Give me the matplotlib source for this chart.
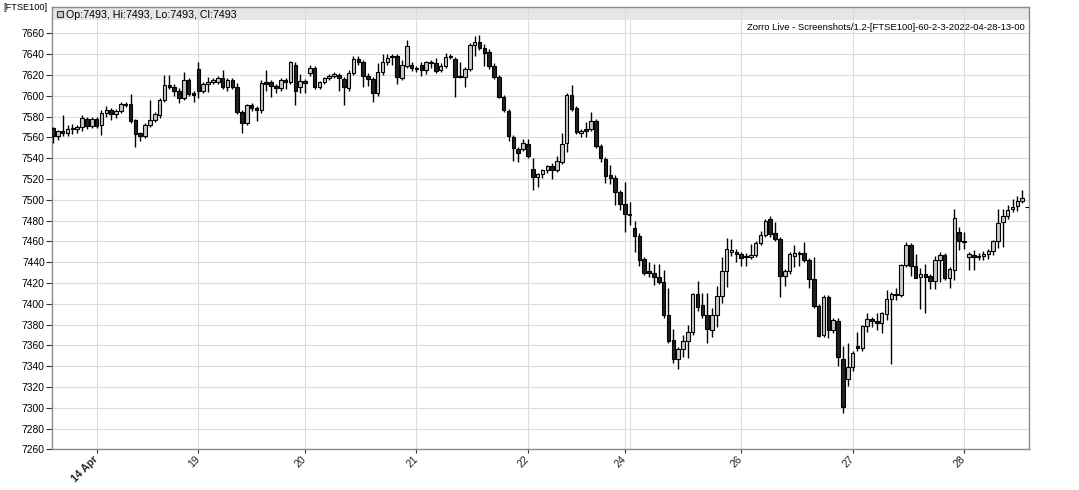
#!/usr/bin/env python3
"""FTSE100 hourly candles, Zorro style screenshot"""
import matplotlib
matplotlib.use('Agg')
import matplotlib.pyplot as plt
from matplotlib.patches import Rectangle
import numpy as np

plt.rcParams['font.family'] = ['Liberation Sans', 'DejaVu Sans']

# hourly bars, 12 Apr .. 28 Apr 2022
opens = [
    7569, 7561, 7566, 7564, 7568, 7568, 7570, 7578, 7571, 7578,
    7572, 7583, 7586, 7582, 7585, 7592, 7592, 7577, 7564, 7561,
    7572, 7577, 7581, 7596, 7610, 7608, 7605, 7598, 7615, 7603,
    7626, 7605, 7611, 7613, 7613, 7617, 7608, 7615, 7608, 7584,
    7574, 7591, 7588, 7586, 7613, 7613, 7609, 7607, 7615, 7613,
    7630, 7608, 7614, 7622, 7627, 7608, 7613, 7617, 7619, 7620,
    7616, 7607, 7622, 7635, 7632, 7619, 7616, 7603, 7623, 7632,
    7638, 7638, 7617, 7629, 7630, 7627, 7630, 7625, 7632, 7631,
    7625, 7629, 7638, 7635, 7619, 7618, 7626, 7649, 7652, 7646,
    7642, 7629, 7618, 7599, 7585, 7560, 7549, 7549, 7554, 7530,
    7522, 7525, 7529, 7532, 7529, 7536, 7555, 7601, 7588, 7564,
    7568, 7568, 7576, 7552, 7539, 7524, 7521, 7507, 7496, 7486,
    7473, 7465, 7443, 7431, 7430, 7426, 7421, 7389, 7365, 7347,
    7356, 7364, 7373, 7409, 7399, 7389, 7375, 7389, 7407, 7431,
    7450, 7450, 7448, 7445, 7445, 7447, 7458, 7466, 7481, 7468,
    7462, 7427, 7431, 7446, 7448, 7449, 7442, 7424, 7398, 7370,
    7406, 7375, 7383, 7347, 7328, 7339, 7359, 7357, 7379, 7385,
    7383, 7381, 7390, 7405, 7409, 7408, 7437, 7456, 7436, 7426,
    7429, 7427, 7422, 7442, 7447, 7425, 7432, 7469, 7460, 7445,
    7447, 7445, 7446, 7448, 7451, 7460, 7479, 7484, 7491, 7494,
    7499, 7493]
highs = [
    7570, 7567, 7581, 7572, 7573, 7572, 7581, 7580, 7580, 7580,
    7586, 7590, 7588, 7587, 7594, 7594, 7602, 7578, 7565, 7574,
    7596, 7584, 7598, 7620, 7620, 7611, 7607, 7623, 7617, 7605,
    7632, 7613, 7618, 7617, 7619, 7625, 7617, 7617, 7612, 7586,
    7592, 7593, 7590, 7615, 7625, 7615, 7611, 7617, 7617, 7633,
    7632, 7621, 7616, 7630, 7629, 7614, 7618, 7621, 7623, 7622,
    7618, 7625, 7638, 7638, 7634, 7622, 7618, 7631, 7640, 7640,
    7640, 7640, 7634, 7654, 7632, 7629, 7632, 7633, 7634, 7636,
    7631, 7641, 7640, 7637, 7632, 7628, 7651, 7657, 7658, 7650,
    7645, 7631, 7620, 7601, 7587, 7562, 7551, 7558, 7558, 7540,
    7526, 7530, 7533, 7535, 7542, 7564, 7603, 7610, 7590, 7568,
    7575, 7584, 7578, 7554, 7541, 7533, 7524, 7509, 7517, 7498,
    7480, 7468, 7445, 7440, 7438, 7438, 7432, 7415, 7376, 7358,
    7370, 7380, 7410, 7422, 7410, 7410, 7396, 7417, 7445, 7463,
    7462, 7453, 7450, 7449, 7457, 7460, 7470, 7481, 7484, 7479,
    7464, 7433, 7450, 7456, 7451, 7459, 7444, 7445, 7400, 7408,
    7408, 7386, 7386, 7359, 7362, 7355, 7373, 7380, 7391, 7387,
    7391, 7392, 7413, 7411, 7415, 7438, 7459, 7458, 7448, 7434,
    7438, 7429, 7446, 7450, 7449, 7435, 7491, 7474, 7469, 7450,
    7452, 7449, 7451, 7453, 7461, 7491, 7491, 7495, 7501, 7504,
    7509, 7493]
lows = [
    7555, 7557, 7561, 7561, 7563, 7564, 7566, 7568, 7569, 7569,
    7562, 7580, 7577, 7579, 7583, 7589, 7574, 7551, 7556, 7559,
    7570, 7575, 7579, 7594, 7606, 7600, 7593, 7596, 7600, 7594,
    7598, 7603, 7604, 7611, 7611, 7606, 7605, 7606, 7582, 7564,
    7572, 7585, 7576, 7583, 7605, 7599, 7603, 7605, 7606, 7611,
    7591, 7603, 7603, 7619, 7606, 7606, 7611, 7615, 7617, 7605,
    7591, 7605, 7620, 7630, 7608, 7609, 7594, 7600, 7620, 7630,
    7630, 7611, 7615, 7627, 7624, 7623, 7619, 7621, 7627, 7622,
    7623, 7627, 7635, 7599, 7617, 7608, 7624, 7638, 7644, 7629,
    7626, 7616, 7598, 7584, 7556, 7537, 7536, 7547, 7540, 7509,
    7512, 7521, 7526, 7520, 7527, 7534, 7546, 7585, 7563, 7560,
    7560, 7566, 7550, 7536, 7516, 7515, 7495, 7490, 7469, 7476,
    7450, 7436, 7428, 7426, 7418, 7419, 7386, 7362, 7343, 7337,
    7349, 7348, 7370, 7393, 7386, 7362, 7368, 7378, 7401, 7416,
    7446, 7440, 7436, 7436, 7443, 7445, 7456, 7464, 7464, 7460,
    7406, 7417, 7429, 7435, 7436, 7440, 7415, 7396, 7368, 7368,
    7367, 7372, 7340, 7295, 7321, 7335, 7355, 7355, 7373, 7378,
    7375, 7372, 7384, 7342, 7404, 7406, 7435, 7427, 7425, 7395,
    7391, 7414, 7414, 7421, 7423, 7415, 7423, 7452, 7453, 7432,
    7432, 7442, 7442, 7443, 7447, 7454, 7455, 7481, 7488, 7489,
    7497, 7493]
closes = [
    7561, 7566, 7564, 7568, 7569, 7570, 7579, 7571, 7578, 7571,
    7583, 7586, 7582, 7585, 7592, 7591, 7576, 7563, 7561, 7572,
    7577, 7582, 7596, 7610, 7608, 7605, 7598, 7615, 7602, 7601,
    7605, 7611, 7613, 7615, 7617, 7608, 7615, 7608, 7584, 7574,
    7591, 7588, 7586, 7612, 7611, 7609, 7607, 7615, 7613, 7632,
    7605, 7614, 7612, 7627, 7608, 7613, 7617, 7619, 7621, 7617,
    7608, 7622, 7635, 7632, 7619, 7616, 7603, 7623, 7632, 7636,
    7637, 7618, 7630, 7648, 7627, 7626, 7625, 7632, 7631, 7624,
    7629, 7637, 7637, 7618, 7618, 7626, 7649, 7652, 7646, 7641,
    7629, 7618, 7599, 7586, 7561, 7550, 7545, 7555, 7542, 7522,
    7525, 7529, 7532, 7529, 7537, 7554, 7601, 7587, 7565, 7566,
    7566, 7576, 7552, 7540, 7523, 7521, 7507, 7496, 7486, 7485,
    7465, 7442, 7430, 7430, 7426, 7421, 7389, 7364, 7347, 7356,
    7364, 7373, 7409, 7397, 7389, 7376, 7389, 7407, 7431, 7453,
    7452, 7448, 7444, 7446, 7447, 7458, 7466, 7480, 7467, 7462,
    7427, 7431, 7448, 7449, 7449, 7442, 7424, 7398, 7369, 7406,
    7375, 7384, 7349, 7301, 7339, 7353, 7357, 7379, 7385, 7383,
    7381, 7391, 7405, 7409, 7408, 7437, 7456, 7436, 7425, 7429,
    7426, 7422, 7442, 7447, 7425, 7433, 7482, 7460, 7459, 7448,
    7445, 7446, 7448, 7451, 7460, 7478, 7484, 7490, 7493, 7499,
    7502, 7493]

day_bars = [9, 30, 52, 75, 98, 118, 142, 165, 188]
day_labels = ['14 Apr', '19', '20', '21', '22', '24', '26', '27', '28']
extra_grid = [119]
yticks = list(range(7260, 7661, 20))

header = 'Op:7493, Hi:7493, Lo:7493, Cl:7493'
title = 'Zorro Live - Screenshots/1.2-[FTSE100]-60-2-3-2022-04-28-13-00'

W, H = 1079, 490
fig = plt.figure(figsize=(W/100, H/100), dpi=100)
ax = fig.add_axes([51.7/W, 1-449.3/H, (1029-51.7)/W, (449.3-7)/H])

o = np.array(opens, float); c = np.array(closes, float)
hi = np.array(highs, float); lo = np.array(lows, float)
x = np.arange(len(o))
up = c >= o
body_lo = np.minimum(o, c)
body_h = np.abs(c - o)

ax.vlines(x, lo, hi, color='black', linewidth=1.0, zorder=3)
ax.bar(x[up], body_h[up], bottom=body_lo[up], width=0.74,
       color='#c8c8c8', edgecolor='black', linewidth=0.8, zorder=4)
ax.bar(x[~up], body_h[~up], bottom=body_lo[~up], width=0.74,
       color='#202020', edgecolor='black', linewidth=0.8, zorder=4)

ax.set_xlim(-0.27, 201.4)
ax.set_ylim(7260, 7685.3)
ax.set_yticks(yticks)
ax.set_yticklabels([str(v) for v in yticks])
ax.set_xticks(day_bars)
ax.set_xticklabels(day_labels, rotation=45, ha='right', va='center',
                   rotation_mode='anchor')
ax.get_xticklabels()[0].set_fontweight('bold')
ax.tick_params(axis='y', length=4, width=0.8, color='#333333',
               labelsize=7.4, labelcolor='black', pad=1)
ax.tick_params(axis='x', length=3, width=0.8, color='#333333',
               labelsize=7.6, labelcolor='#222222', pad=3)

ax.grid(True, color='#dcdcdc', linewidth=0.8, zorder=0)
for b in extra_grid:
    ax.axvline(b, color='#dcdcdc', linewidth=0.8, zorder=0)
ax.set_axisbelow(True)
for s in ax.spines.values():
    s.set_color('#8a8a8a')
    s.set_linewidth(1.0)

# header band
band = 13/442.3
ax.add_patch(Rectangle((0, 1-band), 1, band, transform=ax.transAxes,
                       facecolor='#e6e6e6', edgecolor='none', zorder=0.5))
fig.add_artist(Rectangle((57/W, 1-17.5/H), 6/W, 6/H, transform=fig.transFigure,
                         facecolor='#c8c8c8', edgecolor='#333333', linewidth=0.8))
fig.text(66/W, 1-14.5/H, header, fontsize=7.7, va='center', ha='left')
fig.text(1025/W, 1-27/H, title, fontsize=6.8, va='center', ha='right')
fig.text(3/W, 1-7/H, '[FTSE100]', fontsize=6.6, va='center', ha='left')

fig.savefig('out.png', dpi=100, facecolor='white')
